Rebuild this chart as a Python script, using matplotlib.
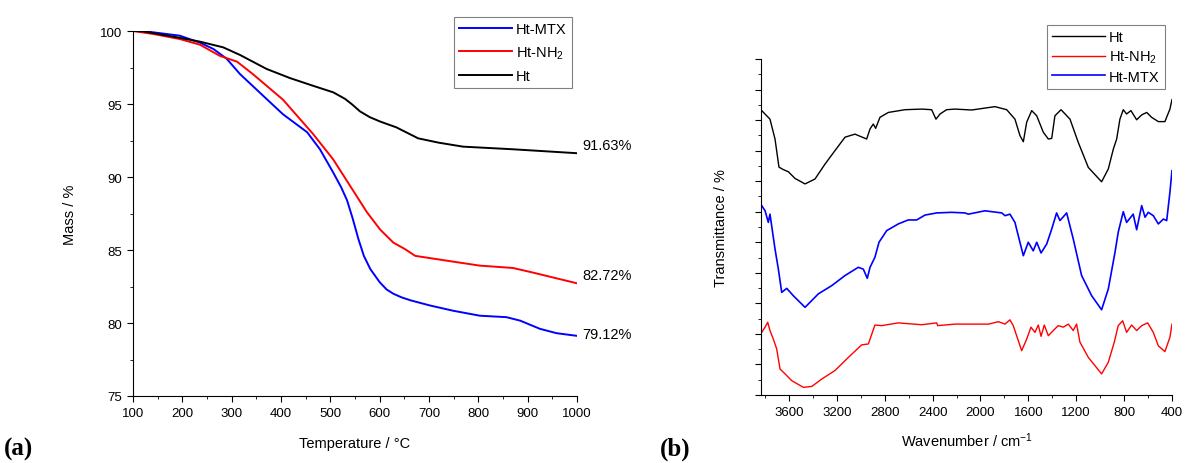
import matplotlib
matplotlib.use("Agg")
import matplotlib.pyplot as plt
from matplotlib.ticker import MultipleLocator

plt.rcParams['font.family'] = ['Liberation Sans', 'DejaVu Sans']
plt.rcParams['mathtext.fontset'] = 'custom'
plt.rcParams['mathtext.rm'] = 'Liberation Sans'
plt.rcParams['mathtext.it'] = 'Liberation Sans'

# ---- (a) TGA data, temperature (C) vs mass (%)
tga_ht_t = [100, 120, 189, 236, 283, 317, 371, 418, 465, 506, 530, 545, 560, 580, 601, 634, 678, 720, 769, 870, 1000]
tga_ht_m = [100, 99.98, 99.57, 99.27, 98.88, 98.36, 97.4, 96.78, 96.25, 95.8, 95.35, 94.95, 94.5, 94.1, 93.8, 93.4,
            92.65, 92.35, 92.08, 91.9, 91.63]

tga_nh2_t = [100, 141, 195, 236, 276, 311, 343, 404, 465, 506, 540, 574, 601, 628, 651, 672, 736, 803, 870, 905, 1000]
tga_nh2_m = [100, 99.8, 99.45, 99.06, 98.3, 97.9, 97.05, 95.3, 92.95, 91.2, 89.4, 87.6, 86.4, 85.5, 85.07, 84.6,
             84.27, 83.93, 83.77, 83.5, 82.72]

tga_mtx_t = [100, 120, 195, 236, 263, 290, 317, 371, 404, 453, 479, 506, 522, 534, 545, 557, 568, 581, 600, 614, 628,
             645, 663, 702, 749, 803, 857, 885, 925, 959, 1000]
tga_mtx_m = [100, 100, 99.68, 99.2, 98.77, 98.1, 97.05, 95.34, 94.3, 93.07, 91.9, 90.3, 89.3, 88.4, 87.2, 85.75, 84.6,
             83.7, 82.8, 82.3, 82.0, 81.75, 81.55, 81.2, 80.84, 80.5, 80.4, 80.16, 79.6, 79.3, 79.12]

# ---- (b) FTIR data, wavenumber (cm-1) vs transmittance (arb. %)
ir_ht_w = [3828, 3759, 3717, 3684, 3648, 3606, 3550, 3466, 3383, 3299, 3216, 3132, 3049, 2951, 2923, 2896,
           2876, 2840, 2770, 2631, 2491, 2408, 2372, 2338, 2283, 2213, 2074, 1879, 1781, 1712, 1670, 1642,
           1614, 1572, 1530, 1475, 1433, 1405, 1378, 1327, 1252, 1183, 1099, 988, 932, 890, 862, 835, 807,
           779, 743, 695, 653, 611, 570, 514, 459, 417, 400]
ir_ht_t = [93.1, 90.3, 83.8, 74.6, 73.8, 73.1, 70.9, 69.1, 70.7, 75.6, 80.0, 84.4, 85.4, 83.8, 87.1, 88.7,
           87.3, 90.9, 92.5, 93.4, 93.6, 93.4, 90.3, 92.0, 93.4, 93.6, 93.3, 94.4, 93.4, 90.3, 84.9, 82.9,
           89.3, 93.1, 91.4, 86.0, 83.8, 84.0, 91.4, 93.4, 90.3, 82.7, 74.5, 69.8, 74.0, 80.5, 83.8, 90.3, 93.4,
           92.0, 93.1, 90.1, 91.7, 92.5, 90.9, 89.5, 89.5, 93.6, 96.7]

ir_mtx_w = [3828, 3800, 3773, 3759, 3717, 3689, 3661, 3619, 3564, 3466, 3355, 3243, 3132, 3021, 2979, 2946,
            2923, 2882, 2848, 2784, 2687, 2604, 2533, 2464, 2366, 2241, 2130, 2101, 1963, 1822, 1795, 1754,
            1712, 1684, 1642, 1601, 1559, 1530, 1494, 1447, 1405, 1364, 1336, 1280, 1225, 1155, 1071, 988,
            932, 876, 849, 807, 779, 724, 695, 653, 625, 598, 556, 514, 472, 444, 417, 400]
ir_mtx_t = [62.0, 60.3, 56.5, 59.2, 47.8, 41.2, 33.6, 34.9, 32.5, 28.7, 33.1, 35.8, 39.1, 41.8, 41.2, 38.2,
            41.8, 45.1, 50.0, 53.8, 56.0, 57.3, 57.3, 58.9, 59.6, 59.8, 59.6, 59.2, 60.3, 59.6, 58.7, 59.2,
            56.5, 52.1, 45.6, 50.0, 47.2, 50.0, 46.5, 49.4, 54.3, 59.6, 57.1, 59.6, 51.1, 39.1, 32.5, 27.9,
            34.7, 46.7, 53.3, 60.0, 56.5, 59.2, 54.1, 62.0, 58.2, 59.8, 58.7, 56.0, 57.6, 57.1, 66.4, 73.4]

ir_nh2_w = [3828, 3800, 3778, 3759, 3731, 3703, 3675, 3633, 3578, 3480, 3410, 3327, 3216, 3104, 2993, 2937,
            2882, 2826, 2687, 2491, 2366, 2358, 2213, 1933, 1850, 1795, 1754, 1726, 1698, 1656, 1614, 1578,
            1545, 1517, 1494, 1467, 1433, 1392, 1350, 1308, 1266, 1225, 1197, 1169, 1099, 988, 932, 882,
            849, 812, 779, 737, 695, 653, 603, 556, 514, 459, 417, 400]
ir_nh2_t = [20.5, 22.2, 23.8, 21.1, 18.3, 15.1, 8.5, 6.9, 4.7, 2.5, 2.8, 5.2, 8.0, 12.3, 16.4, 16.7,
            22.9, 22.7, 23.6, 23.0, 23.6, 22.7, 23.2, 23.2, 24.0, 23.2, 24.6, 22.7, 19.4, 14.5, 18.3, 22.2,
            20.5, 22.9, 19.2, 22.9, 19.4, 21.1, 22.7, 22.2, 23.2, 21.1, 23.2, 17.3, 12.3, 6.9, 10.7, 17.3,
            22.7, 24.3, 20.5, 22.9, 21.1, 22.7, 23.6, 20.5, 16.1, 14.2, 18.9, 23.2]

fig = plt.figure(figsize=(11.85, 4.64), dpi=100)

def style_axes(ax):
    ax.spines['top'].set_visible(False)
    ax.spines['right'].set_visible(False)
    ax.tick_params(which='both', direction='out', top=False, right=False, labelsize=9.5)
    ax.tick_params(which='major', length=4.5)
    ax.tick_params(which='minor', length=2.5)

legend_kw = dict(fontsize=10.5, fancybox=False, framealpha=1, edgecolor='#808080',
                 handlelength=3.6, handletextpad=0.3, borderpad=0.35)

# ---- panel (a)
ax1 = fig.add_axes([0.1122, 0.1444, 0.3747, 0.7866])
ax1.plot(tga_mtx_t, tga_mtx_m, color='#0000ff', lw=1.4, label='Ht-MTX')
ax1.plot(tga_nh2_t, tga_nh2_m, color='#ff0000', lw=1.4, label='Ht-NH$_2$')
ax1.plot(tga_ht_t, tga_ht_m, color='black', lw=1.4, label='Ht')
ax1.set_xlim(100, 1000)
ax1.set_ylim(75, 100)
ax1.xaxis.set_major_locator(MultipleLocator(100))
ax1.xaxis.set_minor_locator(MultipleLocator(50))
ax1.yaxis.set_major_locator(MultipleLocator(5))
ax1.yaxis.set_minor_locator(MultipleLocator(2.5))
style_axes(ax1)
ax1.set_xlabel('Temperature / °C', fontsize=10.5, labelpad=12)
ax1.set_ylabel('Mass / %', fontsize=10.5, labelpad=16)
for t, m, txt in [(tga_ht_t[-1], tga_ht_m[-1], '91.63%'),
                  (tga_nh2_t[-1], tga_nh2_m[-1], '82.72%'),
                  (tga_mtx_t[-1], tga_mtx_m[-1], '79.12%')]:
    ax1.annotate(txt, (t, m), xytext=(4, 1), textcoords='offset points',
                 fontsize=10.5, va='bottom' if txt != '79.12%' else 'center', ha='left',
                 annotation_clip=False)
leg1 = ax1.legend(loc='upper right', bbox_to_anchor=(1.005, 1.058), labelspacing=0.55, **legend_kw)
leg1.get_frame().set_linewidth(0.8)

# ---- panel (b)
ax2 = fig.add_axes([0.6422, 0.1466, 0.3468, 0.7241])
ax2.plot(ir_ht_w, ir_ht_t, color='black', lw=1.0, label='Ht')
ax2.plot(ir_nh2_w, ir_nh2_t, color='#ff0000', lw=1.0, label='Ht-NH$_2$')
ax2.plot(ir_mtx_w, ir_mtx_t, color='#0000ff', lw=1.2, label='Ht-MTX')
ax2.set_xlim(3834, 400)
ax2.set_ylim(0, 110)
ax2.xaxis.set_major_locator(MultipleLocator(400))
ax2.xaxis.set_minor_locator(MultipleLocator(200))
ax2.yaxis.set_major_locator(MultipleLocator(10))
ax2.yaxis.set_minor_locator(MultipleLocator(5))
ax2.set_yticklabels([])
style_axes(ax2)
ax2.set_xlabel('Wavenumber / cm$^{-1}$', fontsize=10.5, labelpad=9)
ax2.set_ylabel('Transmittance / %', fontsize=10.5, labelpad=16)
leg2 = ax2.legend(loc='upper right', bbox_to_anchor=(1.0, 1.122), labelspacing=0.3, **legend_kw)
leg2.get_frame().set_linewidth(0.8)

fig.text(0.003, 0.018, '(a)', family=['Liberation Serif', 'DejaVu Serif'], fontsize=18, fontweight='bold')
fig.text(0.557, 0.018, '(b)', family=['Liberation Serif', 'DejaVu Serif'], fontsize=18, fontweight='bold')

fig.savefig('out.png', dpi=100)
